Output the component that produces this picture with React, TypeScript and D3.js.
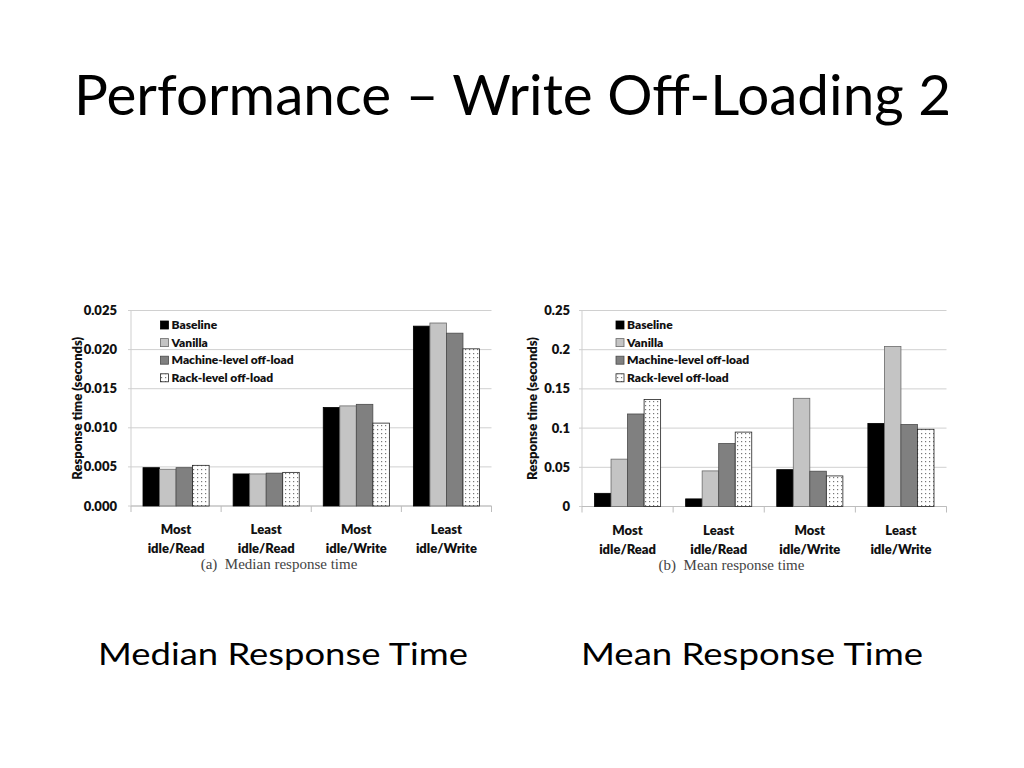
import React from "react";
import * as d3 from "d3";

const categories = ["Most|idle/Read", "Least|idle/Read", "Most|idle/Write", "Least|idle/Write"];
const seriesNames = ["Baseline", "Vanilla", "Machine-level off-load", "Rack-level off-load"];

// Median response time (seconds), per series, per category
const medianBaseline = [0.0049, 0.0041, 0.0126, 0.023];
const medianVanilla = [0.0047, 0.0041, 0.0128, 0.0234];
const medianMachine = [0.0049, 0.0042, 0.013, 0.0221];
const medianRack = [0.0052, 0.0043, 0.0106, 0.0201];
const medianTicks = [0, 0.005, 0.01, 0.015, 0.02, 0.025];

// Mean response time (seconds)
const meanBaseline = [0.0168, 0.0097, 0.047, 0.106];
const meanVanilla = [0.0604, 0.0454, 0.138, 0.204];
const meanMachine = [0.118, 0.0803, 0.045, 0.1045];
const meanRack = [0.1366, 0.0949, 0.039, 0.0985];
const meanTicks = [0, 0.05, 0.1, 0.15, 0.2, 0.25];

const seriesFill = ["#000000", "#c4c4c4", "#808080", "url(#dots)"];
const seriesStroke = ["#000000", "#6a6a6a", "#4a4a4a", "#222222"];

const FONT = "Lato, 'Open Sans', sans-serif";

type ChartProps = {
  x0: number;
  x1: number;
  yTop: number;
  yBase: number;
  series: number[][];
  ticks: number[];
  fmt: (v: number) => string;
  groupPad: number;
  caption: string;
  captionX: number;
  legendX: number;
  titleX: number;
  labelRight: number;
};

function Chart(p: ChartProps) {
  const y = d3.scaleLinear().domain([0, p.ticks[p.ticks.length - 1]]).range([p.yBase, p.yTop]);
  const xb = d3.scaleBand<string>().domain(categories).range([p.x0, p.x1]).paddingInner(0).paddingOuter(0);
  const xs = d3
    .scaleBand<number>()
    .domain(seriesNames.map((_, i) => i))
    .range([p.groupPad, xb.bandwidth() - p.groupPad])
    .padding(0);
  const midY = (p.yTop + p.yBase) / 2;
  return (
    <g>
      {p.ticks.map((t) => (
        <g key={t}>
          <line x1={p.x0 - 3} x2={p.x1} y1={y(t)} y2={y(t)} stroke="#d0d0d0" strokeWidth={1} />
          <text
            x={p.labelRight}
            y={y(t)}
            dy="0.35em"
            textAnchor="end"
            fontFamily={FONT}
            fontWeight={800}
            fontSize={13}
            fill="#111"
          >
            {p.fmt(t)}
          </text>
        </g>
      ))}
      <line x1={p.x0} x2={p.x0} y1={p.yTop} y2={p.yBase} stroke="#cfcfcf" />
      <line x1={p.x0} x2={p.x1} y1={p.yBase} y2={p.yBase} stroke="#bdbdbd" />
      {[...categories.map((c) => xb(c) as number), p.x1].map((xv, i) => (
        <line key={i} x1={xv} x2={xv} y1={p.yBase} y2={p.yBase + 6} stroke="#bdbdbd" />
      ))}
      {p.series.map((vals, si) =>
        vals.map((v, ci) => {
          const bx = (xb(categories[ci]) as number) + (xs(si) as number);
          return (
            <rect
              key={`${si}-${ci}`}
              x={bx}
              y={y(v)}
              width={xs.bandwidth()}
              height={p.yBase - y(v)}
              fill={seriesFill[si]}
              stroke={seriesStroke[si]}
              strokeWidth={0.8}
            />
          );
        })
      )}
      {categories.map((c) => {
        const [l1, l2] = c.split("|");
        const cx = (xb(c) as number) + xb.bandwidth() / 2;
        return (
          <text key={c} textAnchor="middle" fontFamily={FONT} fontWeight={800} fontSize={13} fill="#111">
            <tspan x={cx} y={p.yBase + 28}>
              {l1}
            </tspan>
            <tspan x={cx} y={p.yBase + 47}>
              {l2}
            </tspan>
          </text>
        );
      })}
      <text
        transform={`translate(${p.titleX},${midY}) rotate(-90)`}
        textAnchor="middle"
        dy="0.35em"
        fontFamily={FONT}
        fontWeight={800}
        fontSize={13}
        fill="#111"
      >
        Response time (seconds)
      </text>
      {seriesNames.map((s, i) => (
        <g key={s}>
          <rect
            x={p.legendX}
            y={325 + i * 17.6 - 4}
            width={8}
            height={8}
            fill={seriesFill[i]}
            stroke={seriesStroke[i]}
            strokeWidth={0.8}
          />
          <text
            x={p.legendX + 11}
            y={325 + i * 17.6}
            dy="0.35em"
            fontFamily={FONT}
            fontWeight={800}
            fontSize={12}
            fill="#111"
          >
            {s}
          </text>
        </g>
      ))}
      <text
        x={p.captionX}
        y={p.yBase + 63}
        textAnchor="middle"
        fontFamily="'Liberation Serif', 'DejaVu Serif', serif"
        fontSize={15}
        fill="#444"
      >
        {p.caption}
      </text>
    </g>
  );
}

export default function App() {
  return (
    <svg width={1024} height={768} style={{ position: "absolute", left: 0, top: 0, background: "#fff" }}>
      <defs>
        <pattern id="dots" width={4} height={4} patternUnits="userSpaceOnUse">
          <rect width={4} height={4} fill="#ffffff" />
          <rect x={1} y={1} width={1.2} height={1.2} fill="#777" />
        </pattern>
      </defs>
      <rect width={1024} height={768} fill="#fff" />
      <text
        x={74}
        y={115}
        fontFamily={FONT}
        fontSize={57}
        fill="#000"
        textLength={877}
        lengthAdjust="spacingAndGlyphs"
      >
        Performance – Write Off-Loading 2
      </text>
      <Chart
        x0={131}
        x1={491.5}
        yTop={310.5}
        yBase={506}
        series={[medianBaseline, medianVanilla, medianMachine, medianRack]}
        ticks={medianTicks}
        fmt={d3.format(".3f")}
        groupPad={12}
        caption={"(a)\u00a0\u00a0Median response time"}
        captionX={279}
        legendX={160.5}
        titleX={77}
        labelRight={117}
      />
      <Chart
        x0={582}
        x1={946.5}
        yTop={310.5}
        yBase={506.5}
        series={[meanBaseline, meanVanilla, meanMachine, meanRack]}
        ticks={meanTicks}
        fmt={(v: number) => (v === 0 ? "0" : String(v))}
        groupPad={12.5}
        caption={"(b)\u00a0\u00a0Mean response time"}
        captionX={731.5}
        legendX={616}
        titleX={532}
        labelRight={570}
      />
      <text x={98} y={665} fontFamily={FONT} fontSize={31} fill="#000" textLength={370} lengthAdjust="spacingAndGlyphs">
        Median Response Time
      </text>
      <text x={581} y={665} fontFamily={FONT} fontSize={31} fill="#000" textLength={342} lengthAdjust="spacingAndGlyphs">
        Mean Response Time
      </text>
    </svg>
  );
}
